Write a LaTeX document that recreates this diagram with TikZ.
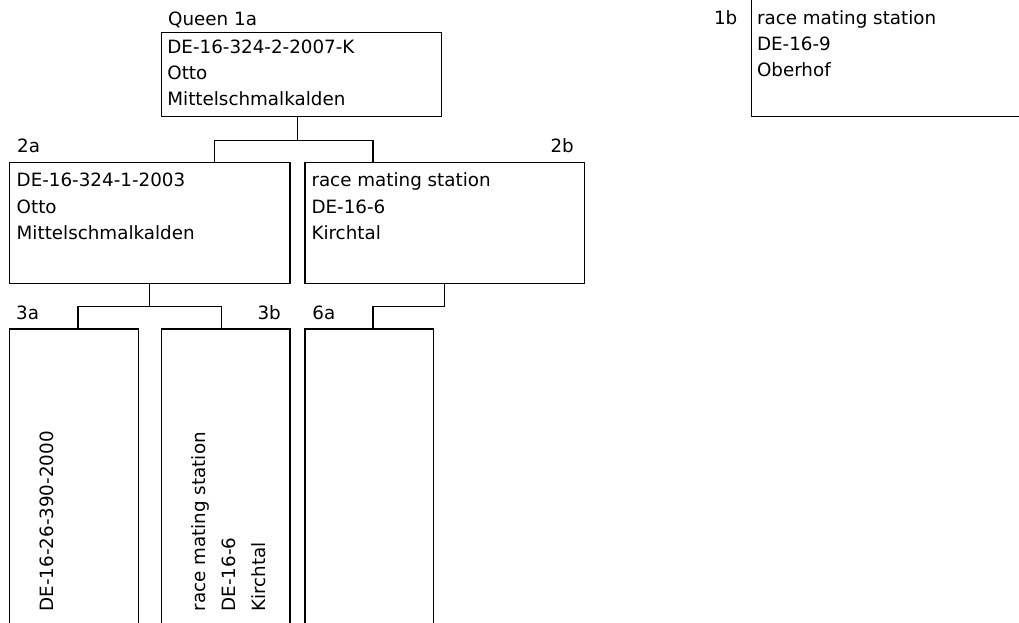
\documentclass[tikz,border=0pt]{standalone}
\usepackage{fontspec}
\setmainfont{DejaVu Sans}
\tikzset{
  box/.style={draw=black, line width=1.2pt, rectangle, inner sep=0pt, anchor=north west},
  conn/.style={draw=black, line width=1.2pt},
  txt/.style={inner sep=0pt, anchor=base west, font=\fontsize{18.3pt}{22pt}\selectfont},
  txtr/.style={inner sep=0pt, anchor=base east, font=\fontsize{18.3pt}{22pt}\selectfont},
  vtxt/.style={inner sep=0pt, anchor=base west, rotate=90, font=\fontsize{18.3pt}{22pt}\selectfont}
}
\begin{document}
\begin{tikzpicture}[x=1pt,y=-1pt]
\useasboundingbox (0,0) rectangle (1019,622);
\clip (0,0) rectangle (1019,622);
\fill[white] (0,0) rectangle (1019,622);

% boxes
\node[box, minimum width=280pt, minimum height=84pt] (q) at (160.7,31.7) {};
\node[box, minimum width=280.3pt, minimum height=121pt] (a2) at (9,161.7) {};
\node[box, minimum width=279.4pt, minimum height=121pt] (b2) at (304.3,161.7) {};
\node[box, minimum width=128.7pt, minimum height=320pt] (a3) at (9,328.3) {};
\node[box, minimum width=128.3pt, minimum height=320pt] (b3) at (161,328.3) {};
\node[box, minimum width=128.4pt, minimum height=320pt] (c6) at (304.3,328.3) {};
\node[box, minimum width=300pt, minimum height=125.7pt] (q1b) at (750.7,-10) {};

% labels
\node[txt] (lq) at (168,25) {Queen 1a};
\node[txt] (l2a) at (17,152.7) {2a};
\node[txtr] (l2b) at (574,152.7) {2b};
\node[txt] (l3a) at (16,319.3) {3a};
\node[txtr] (l3b) at (281,319.3) {3b};
\node[txt] (l6a) at (312.2,319.3) {6a};
\node[txtr] (l1b) at (737.5,24) {1b};

% queen text
\node[txt] (q1) at (167.2,53.3) {DE-16-324-2-2007-K};
\node[txt] (q2) at (167.2,79.3) {Otto};
\node[txt] (q3) at (167.2,105.3) {Mittelschmalkalden};

% 2a text
\node[txt] (a21) at (16.5,186.7) {DE-16-324-1-2003};
\node[txt] (a22) at (16.5,213.2) {Otto};
\node[txt] (a23) at (16.5,239.7) {Mittelschmalkalden};

% 2b text
\node[txt] (b21) at (311.3,186.7) {race mating station};
\node[txt] (b22) at (311.3,213.2) {DE-16-6};
\node[txt] (b23) at (311.3,239.7) {Kirchtal};

% 1b text
\node[txt] (c11) at (756.8,24.5) {race mating station};
\node[txt] (c12) at (756.8,50.5) {DE-16-9};
\node[txt] (c13) at (756.8,76.5) {Oberhof};

% rotated text
\node[vtxt] (a31) at (53.3,611.5) {DE-16-26-390-2000};
\node[vtxt] (b31) at (205.3,611.5) {race mating station};
\node[vtxt] (b32) at (235.3,611.5) {DE-16-6};
\node[vtxt] (b33) at (265.5,611.5) {Kirchtal};

% connectors
\draw[conn] ([xshift=-3.7pt]q.south) -- ++(0,23.3) -| ([xshift=64.5pt]a2.north);
\draw[conn] ([xshift=-3.7pt]q.south) -- ++(0,23.3) -| ([xshift=-71.7pt]b2.north);
\draw[conn] (a2.south) -- ++(0,22.5) -| ([xshift=4pt]a3.north);
\draw[conn] (a2.south) -- ++(0,22.5) -| ([xshift=-4.15pt]b3.north);
\draw[conn] (b2.south) -- ++(0,22.5) -| ([xshift=3.8pt]c6.north);
\end{tikzpicture}
\end{document}
